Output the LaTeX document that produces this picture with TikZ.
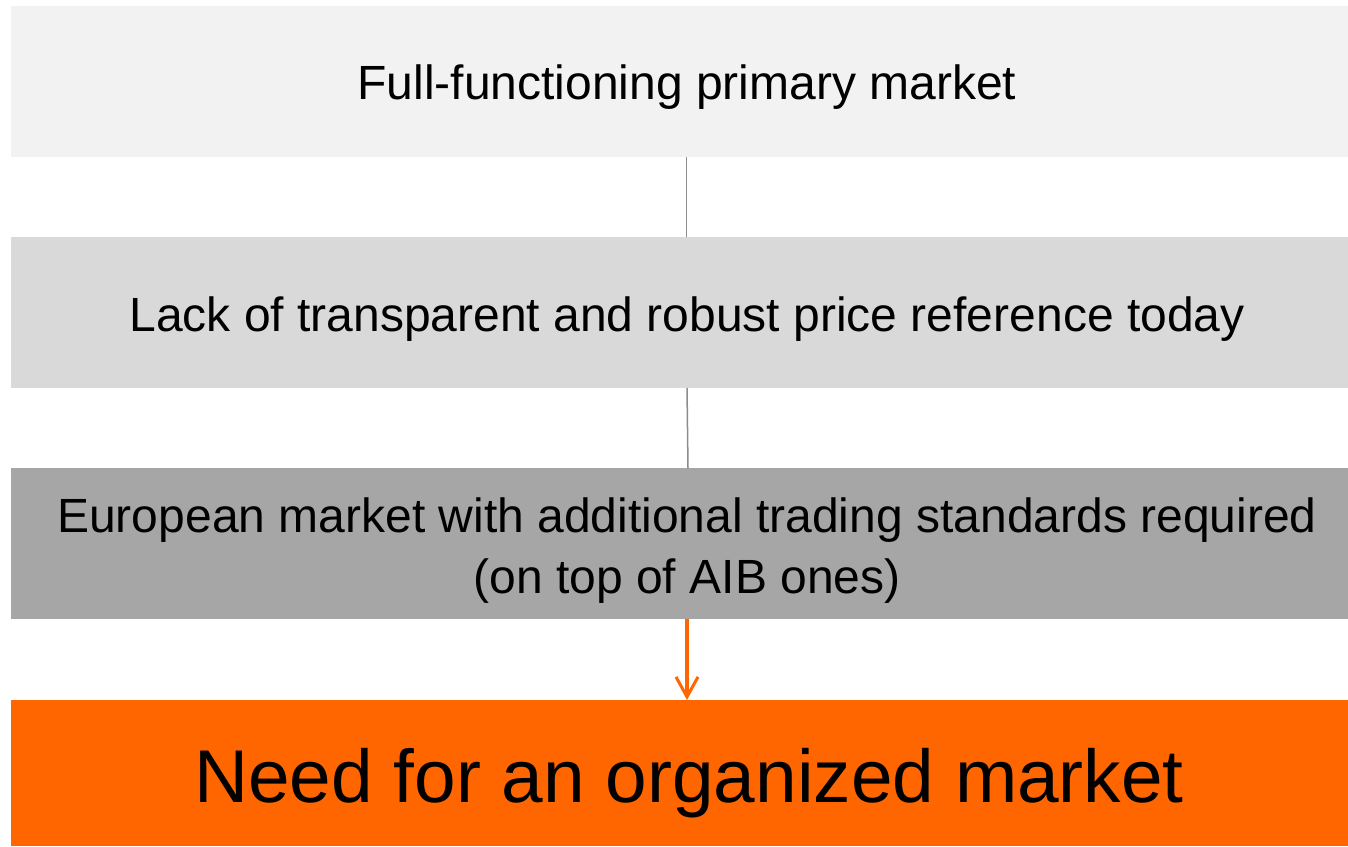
\documentclass[tikz,border=0pt]{standalone}
\usepackage{fontspec}
\setmainfont{Liberation Sans}
\usetikzlibrary{arrows.meta,calc}
\definecolor{boxA}{HTML}{F2F2F2}
\definecolor{boxB}{HTML}{D9D9D9}
\definecolor{boxC}{HTML}{A6A6A6}
\definecolor{boxD}{HTML}{FF6600}
\definecolor{linkgrey}{HTML}{8C8C8C}
\tikzset{
  x=0.5pt,y=0.5pt,
  band/.style={minimum width=668.5pt,inner sep=0pt,outer sep=0pt,draw=none,align=center,text=black},
  bandsmall/.style={band,minimum height=75.5pt},
  smalltext/.style={font=\fontsize{24pt}{30.5pt}\selectfont,align=center},
  link/.style={draw=linkgrey,line width=0.75pt},
  orangearrow/.style={draw=boxD,line width=1.6pt,-{Straight Barb[length=10pt,width=11pt,line width=1.5pt]}}
}
\begin{document}
\begin{tikzpicture}
\useasboundingbox (0,0) rectangle (1348,846);
\fill[white] (0,0) rectangle (1348,846);
% boxes (y = 846 - pixel y)
\node[bandsmall,fill=boxA] (b1) at (679.5,764) {};
\node[smalltext] (t1) at (687,759) {Full-functioning primary market};
\node[bandsmall,fill=boxB] (b2) at (679.5,533.5) {};
\node[smalltext] (t2) at (687,527) {Lack of transparent and robust price reference today};
\node[bandsmall,fill=boxC] (b3) at (679.5,302) {};
\node[smalltext] (t3) at (687,295.5) {European market with additional trading standards required\\(on top of AIB ones)};
\node[band,fill=boxD,minimum height=73pt] (b4) at (679.5,73) {};
\node[font=\fontsize{37.4pt}{44pt}\selectfont] (t4) at (689,63) {Need for an organized market};
% connectors
\draw[link] ($(b1.south)+(7,0)$) -- ($(b2.north)+(7,0)$);
\draw[link] ($(b2.south)+(7.5,0)$) -- ($(b3.north)+(8.5,0)$);
\draw[orangearrow] ($(b3.south)+(7.5,0)$) -- ($(b4.north)+(7.5,0)$);
\end{tikzpicture}
\end{document}
